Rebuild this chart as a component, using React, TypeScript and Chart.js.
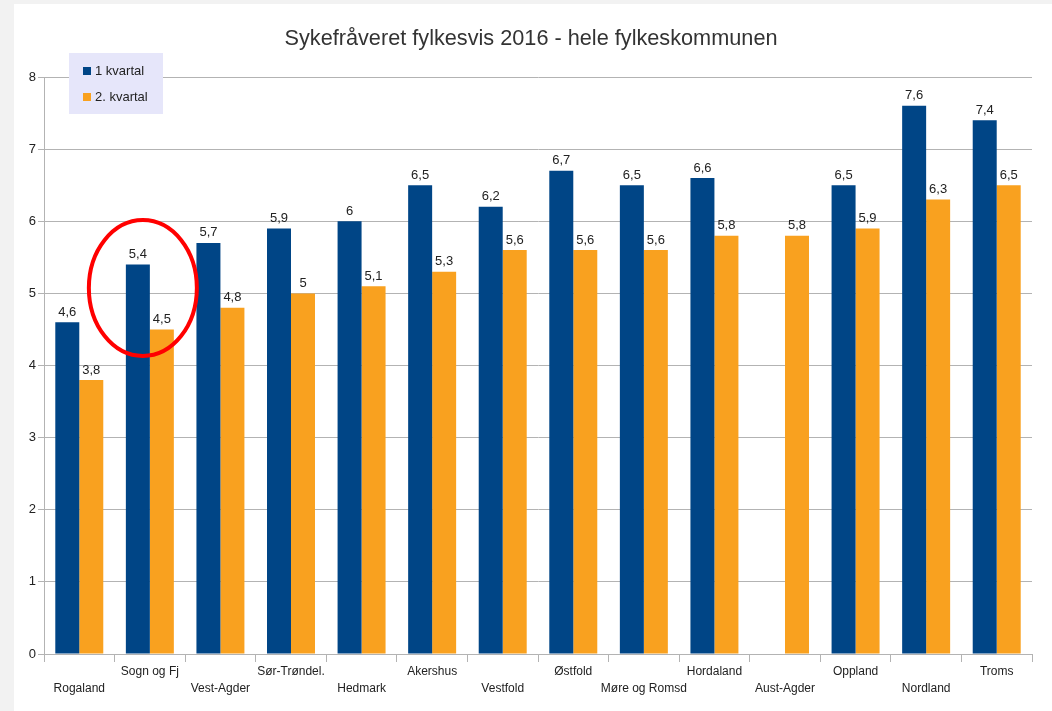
import React, { useEffect, useRef } from "react";
import { Chart, registerables } from "chart.js";

Chart.register(...registerables);

const TITLE = "Sykefråveret fylkesvis 2016 - hele fylkeskommunen";
const categories = [
  "Rogaland", "Sogn og Fj", "Vest-Agder", "Sør-Trøndel.", "Hedmark", "Akershus", "Vestfold",
  "Østfold", "Møre og Romsd", "Hordaland", "Aust-Agder", "Oppland", "Nordland", "Troms",
];
const seriesNames = ["1 kvartal", "2. kvartal"];
const q1 = [4.6, 5.4, 5.7, 5.9, 6.0, 6.5, 6.2, 6.7, 6.5, 6.6, null, 6.5, 7.6, 7.4];
const q2 = [3.8, 4.5, 4.8, 5.0, 5.1, 5.3, 5.6, 5.6, 5.6, 5.8, 5.8, 5.9, 6.3, 6.5];
const yTicks = [0, 1, 2, 3, 4, 5, 6, 7, 8];
const highlightIndex = 1;

const COLORS = ["#004586", "#f9a11f"];
const FONT = "'Liberation Sans', Arial, sans-serif";
const TEXT = "#222222";
const GRID = "#b3b3b3";

const decorPlugin = {
  id: "decor",
  beforeDraw(chart: any) {
    const ctx = chart.ctx;
    ctx.save();
    ctx.fillStyle = "#f2f2f2";
    ctx.fillRect(0, 0, chart.width, chart.height);
    ctx.fillStyle = "#ffffff";
    ctx.fillRect(14, 4, chart.width - 14, chart.height - 4);
    ctx.restore();
  },
  afterDatasetsDraw(chart: any) {
    const ctx = chart.ctx;
    ctx.save();
    // value labels
    ctx.font = `13px ${FONT}`;
    ctx.fillStyle = TEXT;
    ctx.textAlign = "center";
    ctx.textBaseline = "middle";
    chart.data.datasets.forEach((ds: any, di: number) => {
      const meta = chart.getDatasetMeta(di);
      meta.data.forEach((bar: any, i: number) => {
        const v = ds.data[i];
        if (v === null || v === undefined) return;
        ctx.fillText(String(v).replace(".", ","), bar.x, bar.y - 10);
      });
    });
    // title
    ctx.font = `21.7px ${FONT}`;
    ctx.fillStyle = "#333333";
    ctx.fillText(TITLE, 531, 39);
    // legend
    ctx.fillStyle = "#e6e6fa";
    ctx.fillRect(69, 53, 94, 61);
    ctx.font = `13px ${FONT}`;
    ctx.textAlign = "left";
    seriesNames.forEach((name, i) => {
      const cy = 71 + i * 26;
      ctx.fillStyle = COLORS[i];
      ctx.fillRect(83, cy - 4, 8, 8);
      ctx.fillStyle = TEXT;
      ctx.fillText(name, 95, cy);
    });
    // highlight ellipse
    const xs = chart.scales.x;
    const ys = chart.scales.y;
    const cx = xs.getPixelForValue(highlightIndex) - 7;
    const cyE = ys.getPixelForValue(((q1[highlightIndex] as number) + (q2[highlightIndex] as number)) / 2) - 9;
    ctx.beginPath();
    ctx.ellipse(cx, cyE, 54, 68, 0, 0, Math.PI * 2);
    ctx.strokeStyle = "#ff0000";
    ctx.lineWidth = 4;
    ctx.stroke();
    ctx.restore();
  },
};

export default function App() {
  const ref = useRef<HTMLCanvasElement>(null);
  useEffect(() => {
    if (!ref.current) return;
    const chart = new Chart(ref.current, {
      type: "bar",
      data: {
        labels: categories,
        datasets: [
          { label: seriesNames[0], data: q1 as any, backgroundColor: COLORS[0], barPercentage: 1, categoryPercentage: 0.68 },
          { label: seriesNames[1], data: q2, backgroundColor: COLORS[1], barPercentage: 1, categoryPercentage: 0.68 },
        ],
      },
      options: {
        responsive: false,
        animation: false,
        layout: { padding: { left: 14, right: 20, top: 77, bottom: 0 } },
        plugins: { legend: { display: false }, title: { display: false }, tooltip: { enabled: false } },
        scales: {
          x: {
            offset: true,
            grid: {
              offset: true,
              drawOnChartArea: true,
              color: (c: any) => (c.index === categories.length ? GRID : "rgba(0,0,0,0)"),
              tickColor: GRID,
              tickLength: 8,
            },
            border: { color: GRID },
            ticks: {
              autoSkip: false,
              maxRotation: 0,
              padding: 1,
              color: TEXT,
              font: { family: FONT, size: 12, lineHeight: 1.42 },
              callback: (_v: any, i: number) => (i % 2 === 0 ? ["", categories[i]] : [categories[i], ""]),
            },
            afterFit: (s: any) => { s.height = 57; },
          },
          y: {
            min: yTicks[0],
            max: yTicks[yTicks.length - 1],
            afterBuildTicks: (s: any) => { s.ticks = yTicks.map((v) => ({ value: v })); },
            grid: { color: GRID, tickColor: GRID, tickLength: 6 },
            border: { color: GRID },
            ticks: { padding: 2, color: TEXT, font: { family: FONT, size: 13 } },
            afterFit: (s: any) => { s.width = 30; },
          },
        },
      },
      plugins: [decorPlugin],
    });
    return () => chart.destroy();
  }, []);
  return (
    <div style={{ position: "fixed", left: 0, top: 0, width: 1052, height: 711 }}>
      <canvas ref={ref} width={1052} height={711} />
    </div>
  );
}
